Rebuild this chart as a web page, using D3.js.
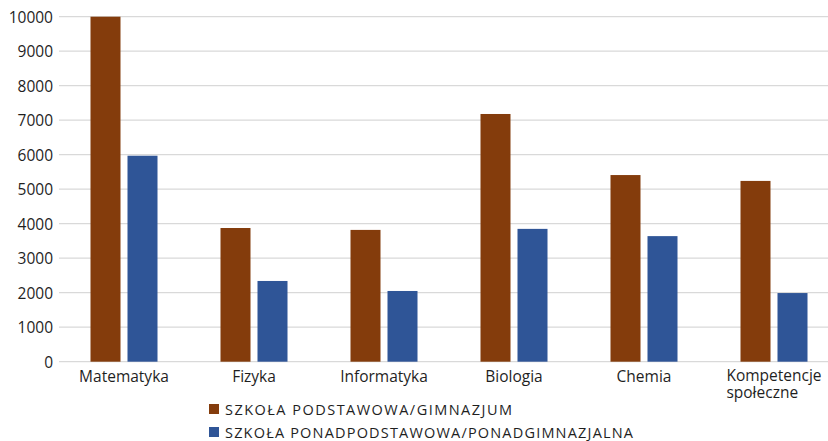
<!DOCTYPE html>
<html>
<head>
<meta charset="utf-8">
<script src="https://cdn.jsdelivr.net/npm/d3@7"></script>
<style>
  html, body { margin: 0; padding: 0; background: #fff; }
  svg { display: block; font-family: "Open Sans", sans-serif; }
</style>
</head>
<body>
<svg id="chart" width="828" height="441"></svg>
<script>
// Subjects shown along the x axis (multi-line labels split on "\n")
const categories = ["Matematyka", "Fizyka", "Informatyka", "Biologia", "Chemia", "Kompetencje\nspołeczne"];
const seriesNames = ["SZKOŁA PODSTAWOWA/GIMNAZJUM", "SZKOŁA PONADPODSTAWOWA/PONADGIMNAZJALNA"];
const primaryValues = [10000, 3875, 3820, 7180, 5410, 5240];
const secondaryValues = [5970, 2340, 2050, 3850, 3640, 1990];
const yTicks = [0, 1000, 2000, 3000, 4000, 5000, 6000, 7000, 8000, 9000, 10000];
const colors = ["#843C0C", "#2F5597"];

const svg = d3.select("#chart");
const W = 828;

const x = d3.scaleBand().domain(categories).range([59, 839]).paddingInner(0).paddingOuter(0);
const y = d3.scaleLinear().domain([0, 10000]).range([361.7, 16.7]);
const barW = 30, barGap = 7;

// Horizontal gridlines
svg.append("g").selectAll("line").data(yTicks).join("line")
  .attr("x1", 59).attr("x2", W)
  .attr("y1", d => y(d)).attr("y2", d => y(d))
  .attr("stroke", "#d9d9d9").attr("stroke-width", 1.3);

// Y axis labels
const yAxis = d3.axisLeft(y).tickValues(yTicks).tickSize(0).tickPadding(0).tickFormat(d3.format("d"));
const yg = svg.append("g").attr("transform", "translate(53,0)").call(yAxis);
yg.select(".domain").remove();
yg.selectAll("text").attr("font-size", 15.5).attr("fill", "#1f1f1f")
  .attr("font-family", "'Open Sans', sans-serif").attr("dy", "0.36em");

// Bars
const series = [primaryValues, secondaryValues];
series.forEach((vals, si) => {
  svg.append("g").selectAll("rect").data(vals).join("rect")
    .attr("x", (d, i) => x(categories[i]) + x.bandwidth() / 2 - barW - barGap / 2 + si * (barW + barGap))
    .attr("y", d => y(d))
    .attr("width", barW)
    .attr("height", d => y(0) - y(d))
    .attr("fill", colors[si]);
});

// Category labels; wrapped labels keep their lines left-aligned under one another
const xg = svg.append("g");
categories.forEach(c => {
  const lines = c.split("\n");
  const cx = x(c) + x.bandwidth() / 2;
  const t = xg.append("text").attr("font-size", 15.5).attr("fill", "#1f1f1f")
    .attr("x", cx).attr("y", lines.length > 1 ? 381 : 382).attr("text-anchor", "middle");
  const first = t.append("tspan").attr("x", cx).text(lines[0]);
  if (lines.length > 1) {
    const w = first.node().getComputedTextLength();
    const left = cx - w / 2;
    t.attr("text-anchor", "start");
    first.attr("x", left);
    lines.slice(1).forEach(l => t.append("tspan").attr("x", left).attr("dy", 17).text(l));
  }
});

// Legend
const legend = svg.append("g");
const legendWidths = [287, 408];
seriesNames.forEach((name, i) => {
  const ly = 404 + i * 23;
  legend.append("rect").attr("x", 209).attr("y", ly).attr("width", 10).attr("height", 10).attr("fill", colors[i]);
  legend.append("text").attr("x", 225).attr("y", ly + 11).attr("font-size", 14.5).attr("fill", "#1f1f1f")
    .attr("textLength", legendWidths[i]).attr("lengthAdjust", "spacing").text(name);
});
</script>
</body>
</html>
